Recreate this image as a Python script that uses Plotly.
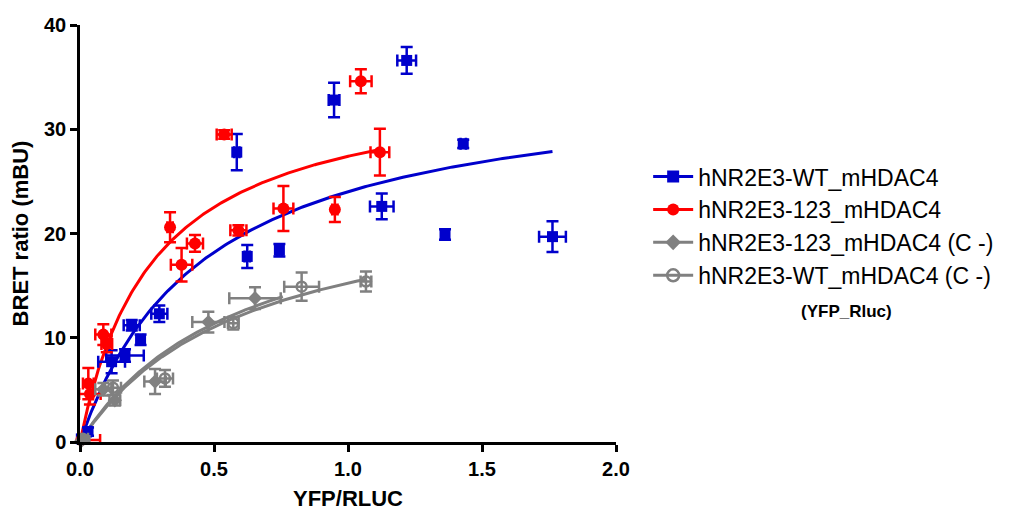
import numpy as np
import plotly.graph_objects as go

# ---------------- data ----------------
wt_x    = [0.005, 0.03, 0.118, 0.168, 0.193, 0.226, 0.296, 0.585, 0.624, 0.744, 0.948, 1.126, 1.219, 1.362, 1.43, 1.763]
wt_y    = [0.3, 1.0, 7.7, 8.3, 11.2, 9.8, 12.3, 27.8, 17.8, 18.4, 32.8, 22.6, 36.6, 19.9, 28.6, 19.7]
wt_yerr = [0.3, 0.4, 1.1, 0.6, 0.5, 0.5, 0.8, 1.74, 1.1, 0.6, 1.66, 1.23, 1.28, 0.5, 0.4, 1.47]
wt_xerr = [0.01, 0.01, 0.05, 0.07, 0.03, 0.01, 0.03, 0.01, 0.01, 0.01, 0.02, 0.044, 0.035, 0.01, 0.01, 0.05]

m123_x    = [0.005, 0.031, 0.037, 0.087, 0.1, 0.336, 0.379, 0.429, 0.538, 0.591, 0.759, 0.951, 1.048, 1.119]
m123_y    = [0.2, 5.6, 4.6, 10.3, 9.4, 20.6, 17.0, 19.05, 29.5, 20.3, 22.4, 22.3, 34.6, 27.8]
m123_yerr = [0.3, 1.5, 1.0, 1.0, 0.8, 1.44, 1.6, 0.8, 0.4, 0.5, 2.16, 1.2, 1.15, 2.24]
m123_xerr = [0.07, 0.02, 0.04, 0.03, 0.02, 0.01, 0.04, 0.03, 0.028, 0.03, 0.037, 0.01, 0.04, 0.035]

c123_x    = [0.005, 0.087, 0.13, 0.28, 0.479, 0.653]
c123_y    = [0.1, 5.05, 4.0, 5.8, 11.5, 13.8]
c123_yerr = [0.3, 0.6, 0.5, 1.2, 1.0, 1.04]
c123_xerr = [0.03, 0.03, 0.02, 0.04, 0.06, 0.096]

cwt_x    = [0.01, 0.123, 0.317, 0.572, 0.827, 1.067]
cwt_y    = [0.3, 5.2, 6.1, 11.4, 14.9, 15.4]
cwt_yerr = [0.3, 0.7, 0.8, 0.6, 1.36, 0.96]
cwt_xerr = [0.02, 0.03, 0.03, 0.02, 0.065, 0.02]

# one-site hyperbola fits (Bmax, Kd, x range end)
fit_wt   = (35.3, 0.47, 1.763)
fit_m123 = (35.0, 0.277, 1.119)
fit_c123 = (25.0, 0.60, 0.757)
fit_cwt  = (24.65, 0.617, 1.067)

names = ["hNR2E3-WT_mHDAC4", "hNR2E3-123_mHDAC4",
         "hNR2E3-123_mHDAC4 (C -)", "hNR2E3-WT_mHDAC4 (C -)"]
x_ticks = [0.0, 0.5, 1.0, 1.5, 2.0]
y_ticks = [0, 10, 20, 30, 40]

BLUE, RED, GRAY = "#0000CC", "#FF0000", "#808080"
FONT = "Liberation Sans, Arial"

series = [
    (names[0], wt_x, wt_y, wt_xerr, wt_yerr, fit_wt, BLUE, "square", 11),
    (names[1], m123_x, m123_y, m123_xerr, m123_yerr, fit_m123, RED, "circle", 12),
    (names[2], c123_x, c123_y, c123_xerr, c123_yerr, fit_c123, GRAY, "diamond", 11),
    (names[3], cwt_x, cwt_y, cwt_xerr, cwt_yerr, fit_cwt, GRAY, "circle-open", 10),
]

fig = go.Figure()

# fitted curves first (drawn below markers)
for name, xs, ys, xe, ye, (B, K, xend), col, sym, sz in series:
    xc = np.linspace(0, xend, 200)
    yc = B * xc / (K + xc)
    fig.add_trace(go.Scatter(x=xc, y=yc, mode="lines", line=dict(color=col, width=3),
                             showlegend=False, hoverinfo="skip"))

for name, xs, ys, xe, ye, fit, col, sym, sz in series:
    fig.add_trace(go.Scatter(
        x=xs, y=ys, mode="markers", showlegend=False, cliponaxis=False,
        marker=dict(symbol=sym, size=sz, color=col,
                    line=dict(color=col, width=2.5 if sym == "circle-open" else 0)),
        error_y=dict(type="data", array=ye, visible=True, color=col, thickness=2.5, width=6),
        error_x=dict(type="data", array=xe, visible=True, color=col, thickness=2.5, width=6),
        name=name))

# legend entries (line + marker)
for i, (name, xs, ys, xe, ye, fit, col, sym, sz) in enumerate(series):
    fig.add_trace(go.Scatter(
        x=[None], y=[None], mode="lines+markers", name=name, legendgroup=f"g{i}",
        line=dict(color=col, width=3),
        marker=dict(symbol=sym, size=12, color=col,
                    line=dict(color=col, width=2.5 if sym == "circle-open" else 0))))

axis_common = dict(showline=True, linecolor="black", linewidth=2.5, ticks="outside",
                   ticklen=7, tickwidth=2.5, tickcolor="black", showgrid=False,
                   zeroline=False, mirror=False, automargin=False,
                   tickfont=dict(family=FONT, size=20, color="black", weight="bold"))

fig.update_layout(
    width=1014, height=509,
    margin=dict(l=72, r=406, t=17, b=75),
    paper_bgcolor="white", plot_bgcolor="white",
    font=dict(family=FONT, color="black"),
    xaxis=dict(range=[0, 2], tickvals=x_ticks, ticktext=[f"{v:.1f}" for v in x_ticks],
               title=dict(text="<b>YFP/RLUC</b>", font=dict(size=22), standoff=12),
               **axis_common),
    yaxis=dict(range=[0, 40], tickvals=y_ticks,
               title=dict(text="<b>BRET ratio (mBU)</b>", font=dict(size=22), standoff=13),
               **axis_common),
    legend=dict(x=1.06, xanchor="left", y=0.688, yanchor="top",
                font=dict(size=23, family=FONT),
                bgcolor="rgba(0,0,0,0)", itemwidth=40, tracegroupgap=0),
    annotations=[dict(text="<b>(YFP_Rluc)</b>", x=1.43, y=0.314, xref="paper", yref="paper",
                      xanchor="center", yanchor="middle",
                      showarrow=False, font=dict(size=17, family=FONT))],
)

fig.write_html("out.html")
